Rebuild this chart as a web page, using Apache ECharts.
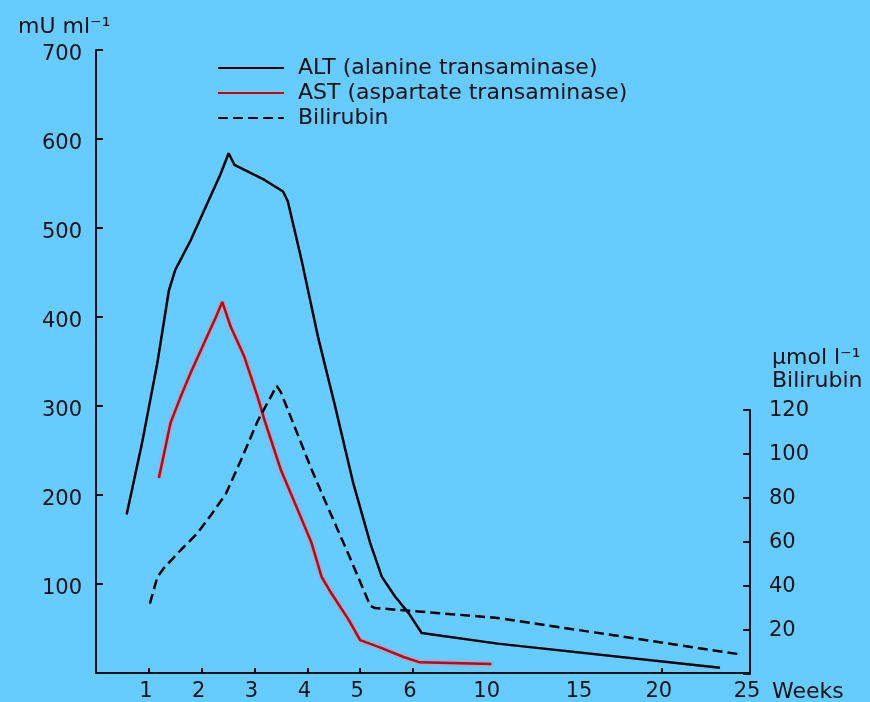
<!DOCTYPE html>
<html>
<head>
<meta charset="utf-8">
<script src="https://cdn.jsdelivr.net/npm/echarts@6/dist/echarts.min.js"></script>
<style>
  html, body { margin: 0; padding: 0; background: #66ccff; }
  #chart { width: 870px; height: 702px; }
</style>
</head>
<body>
<div id="chart"></div>
<script>
// ---- data ----
const ALT_WEEKS  = [0.58, 0.87, 1.16, 1.38, 1.50, 1.79, 2.11, 2.36, 2.51, 2.62, 3.19, 3.54, 3.63, 3.89, 4.20, 4.52, 4.87, 5.19, 5.41, 5.66, 5.92, 6.45, 10.43, 23.3];
const ALT_VALUES = [178, 258, 348, 430, 453, 486, 528, 561, 584, 571, 554, 541, 530, 464, 378, 301, 213, 146, 108, 86, 67, 45, 33, 6];

const AST_WEEKS  = [1.19, 1.41, 1.60, 1.79, 2.04, 2.27, 2.39, 2.55, 2.81, 3.06, 3.19, 3.50, 3.82, 4.08, 4.27, 4.46, 4.78, 5.00, 5.41, 5.82, 6.36, 10.1];
const AST_VALUES = [219, 281, 310, 337, 370, 400, 417, 389, 355, 310, 284, 228, 183, 146, 108, 89, 60, 37, 28, 18, 12, 10];

const BILI_WEEKS  = [1.02, 1.16, 1.28, 1.63, 1.92, 2.17, 2.46, 2.74, 3.06, 3.42, 3.50, 4.08, 4.33, 4.84, 5.19, 5.28, 10.43, 24.4];
const BILI_VALUES = [32, 44, 48, 57, 64, 72, 82, 97, 115, 131, 128, 93, 79, 51, 31, 30, 25.5, 9];

const X_LABEL_WEEKS = [1, 2, 3, 4, 5, 6, 10, 15, 20, 25];
const X_TICK_WEEKS  = [1, 2, 3, 4, 5, 6, 20];
const LEFT_MAX = 700, LEFT_INTERVAL = 100;
const RIGHT_MAX = 120, RIGHT_INTERVAL = 20;

const SERIES_NAMES = ['ALT (alanine transaminase)', 'AST (aspartate transaminase)', 'Bilirubin'];

// ---- broken time scale of the original figure (weeks -> axis units) ----
const SCALE_WEEKS = [0, 6, 10, 15, 20, 25];
const SCALE_UNITS = [0, 6.04, 7.5, 9.26, 10.78, 12.46];
function weekToPos(w) {
  for (let i = 1; i < SCALE_WEEKS.length; i++) {
    if (w <= SCALE_WEEKS[i]) {
      const a = SCALE_WEEKS[i - 1], b = SCALE_WEEKS[i];
      return SCALE_UNITS[i - 1] + (w - a) / (b - a) * (SCALE_UNITS[i] - SCALE_UNITS[i - 1]);
    }
  }
  return SCALE_UNITS[SCALE_UNITS.length - 1];
}
const POS_MAX = SCALE_UNITS[SCALE_UNITS.length - 1];
const pair = (ws, vs) => ws.map((w, i) => [weekToPos(w), vs[i]]);

const FONT = 'DejaVu Sans';
const INK = '#111';
const numStyle = { fontFamily: FONT, fontSize: 21, color: INK };

const chart = echarts.init(document.getElementById('chart'), null, { renderer: 'canvas' });
chart.setOption({
  animation: false,
  backgroundColor: '#66ccff',
  title: [
    { text: 'mU ml⁻¹', left: 13, top: 11,
      textStyle: { fontFamily: FONT, fontSize: 22, fontWeight: 'normal', color: INK } },
    { text: 'µmol l⁻¹\nBilirubin', left: 767, top: 342,
      textStyle: { fontFamily: FONT, fontSize: 22, fontWeight: 'normal', color: INK, lineHeight: 23 } }
  ],
  legend: {
    orient: 'vertical', left: 212, top: 52,
    itemWidth: 66, itemHeight: 14, itemGap: 3,
    selectedMode: false,
    data: SERIES_NAMES,
    itemStyle: { color: 'rgba(0,0,0,0)', borderWidth: 0, opacity: 0 },
    textStyle: { fontFamily: FONT, fontSize: 22, color: INK, lineHeight: 22, padding: [0, 0, 0, 9] }
  },
  grid: [
    { left: 96, right: 120, top: 50, bottom: 29, outerBoundsMode: 'none', containLabel: false },
    { left: 96, right: 120, top: 410, bottom: 28, outerBoundsMode: 'none', containLabel: false }
  ],
  xAxis: [
    {
      type: 'value', gridIndex: 0, min: 0, max: POS_MAX,
      axisLine: { show: true, onZero: false, lineStyle: { color: INK, width: 2 } },
      axisTick: { show: true, inside: true, length: 5, lineStyle: { color: INK, width: 2 },
                  customValues: X_TICK_WEEKS.map(weekToPos) },
      axisLabel: {
        show: true, margin: 8,
        customValues: X_LABEL_WEEKS.map(weekToPos),
        formatter: function (v) {
          let best = 0, d = Infinity;
          X_LABEL_WEEKS.forEach((w, i) => { const dd = Math.abs(weekToPos(w) - v); if (dd < d) { d = dd; best = i; } });
          return '{n|' + X_LABEL_WEEKS[best] + '}';
        },
        rich: { n: Object.assign({ padding: [0, 6, 0, 0] }, numStyle) }
      },
      splitLine: { show: false },
      name: 'Weeks', nameLocation: 'end', nameGap: 22,
      nameTextStyle: { fontFamily: FONT, fontSize: 22, color: INK, align: 'left', verticalAlign: 'top', padding: [8, 0, 0, 0] }
    },
    { type: 'value', gridIndex: 1, min: 0, max: POS_MAX, show: false }
  ],
  yAxis: [
    {
      type: 'value', gridIndex: 0, position: 'left', min: 0, max: LEFT_MAX, interval: LEFT_INTERVAL,
      axisLine: { show: true, onZero: false, lineStyle: { color: INK, width: 2 } },
      axisTick: { show: true, inside: true, length: 7, lineStyle: { color: INK, width: 2 } },
      axisLabel: { margin: 14,
                   formatter: v => v === 0 ? '' : '{n|' + v + '}',
                   rich: { n: Object.assign({ padding: [9, 0, 0, 0] }, numStyle) } },
      splitLine: { show: false }
    },
    {
      type: 'value', gridIndex: 1, position: 'right', min: 0, max: RIGHT_MAX, interval: RIGHT_INTERVAL,
      axisLine: { show: true, onZero: false, lineStyle: { color: INK, width: 2 } },
      axisTick: { show: true, inside: true, length: 7, lineStyle: { color: INK, width: 2 } },
      axisLabel: { margin: 19,
                   formatter: v => v === 0 ? '' : '{n|' + v + '}',
                   rich: { n: Object.assign({ padding: [2, 0, 0, 0] }, numStyle) } },
      splitLine: { show: false }
    }
  ],
  series: [
    {
      name: SERIES_NAMES[0], type: 'line', xAxisIndex: 0, yAxisIndex: 0,
      data: pair(ALT_WEEKS, ALT_VALUES), symbol: 'none', smooth: false,
      lineStyle: { color: '#000', width: 2.5 }, itemStyle: { color: '#000' }
    },
    {
      name: SERIES_NAMES[1], type: 'line', xAxisIndex: 0, yAxisIndex: 0,
      data: pair(AST_WEEKS, AST_VALUES), symbol: 'none', smooth: false,
      lineStyle: { color: '#cc0000', width: 2.5, shadowColor: 'rgba(235,120,140,0.9)', shadowBlur: 3 },
      itemStyle: { color: '#cc0000' }
    },
    {
      name: SERIES_NAMES[2], type: 'line', xAxisIndex: 1, yAxisIndex: 1, clip: false,
      data: pair(BILI_WEEKS, BILI_VALUES), symbol: 'none', smooth: false,
      lineStyle: { color: '#000', width: 2.5, type: [10, 5] }, itemStyle: { color: '#000' }
    }
  ]
});
</script>
</body>
</html>
